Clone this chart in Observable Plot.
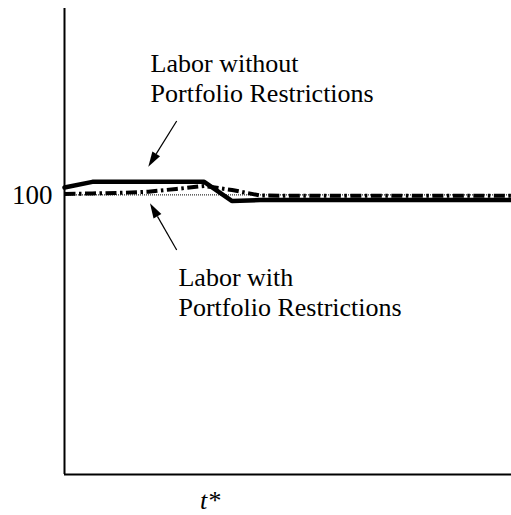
<!DOCTYPE html>
<html>
<head>
<meta charset="utf-8">
<script src="https://cdn.jsdelivr.net/npm/d3@7"></script>
<script src="https://cdn.jsdelivr.net/npm/@observablehq/plot@0.6"></script>
<style>
  html, body { margin: 0; padding: 0; background: #fff; }
  #chart svg { display: block; }
  #chart svg text { font-family: "Liberation Serif", "DejaVu Serif", serif !important; }
</style>
</head>
<body>
<div id="chart"></div>
<script>
// periods
const periods = d3.range(0, 17);
// Labor without portfolio restrictions (index, steady state = 100)
const laborWithout = [100.40, 100.70, 100.70, 100.70, 100.70, 100.70, 99.67, 99.72, 99.72, 99.72, 99.72, 99.72, 99.72, 99.72, 99.72, 99.72, 99.72];
// Labor with portfolio restrictions
const laborWith = [100.05, 100.08, 100.11, 100.17, 100.32, 100.48, 100.26, 99.97, 99.95, 99.95, 99.95, 99.95, 99.95, 99.95, 99.95, 99.95, 99.95];
const steadyState = 100;
const tStar = 5;
const yTicks = [100];

const dataWithout = periods.map((t, i) => ({t, v: laborWithout[i]}));
const dataWith = periods.map((t, i) => ({t, v: laborWith[i]}));

const FONT = "Liberation Serif";

// filled arrow mark drawn through the plot's scales
function filledArrow(x1, y1, x2, y2) {
  return (index, scales) => {
    const X1 = scales.x(x1), Y1 = scales.y(y1), X2 = scales.x(x2), Y2 = scales.y(y2);
    const ang = Math.atan2(Y2 - Y1, X2 - X1);
    const L = 15, W = 4.5;
    const bx = X2 - L * Math.cos(ang), by = Y2 - L * Math.sin(ang);
    const px = -Math.sin(ang) * W, py = Math.cos(ang) * W;
    const g = d3.create("svg:g");
    g.append("line").attr("x1", X1).attr("y1", Y1).attr("x2", bx).attr("y2", by)
      .attr("stroke", "black").attr("stroke-width", 1.2);
    g.append("path").attr("d", `M${X2},${Y2}L${bx + px},${by + py}L${bx - px},${by - py}Z`)
      .attr("fill", "black");
    return g.node();
  };
}

const chart = Plot.plot({
  width: 511,
  height: 515,
  marginLeft: 64,
  marginRight: 0,
  marginTop: 8,
  marginBottom: 41,
  style: {background: "#fff", color: "black"},
  x: {domain: [0, 16]},
  y: {domain: [85, 110]},
  marks: [
    Plot.ruleY([steadyState], {stroke: "black", strokeWidth: 1, strokeDasharray: "1,1"}),
    Plot.line(dataWithout, {x: "t", y: "v", stroke: "black", strokeWidth: 4.5, strokeLinejoin: "miter"}),
    Plot.line(dataWith, {x: "t", y: "v", stroke: "black", strokeWidth: 4, strokeDasharray: "11,3.5,2.5,3.5", strokeLinecap: "butt"}),
    Plot.ruleX([0], {stroke: "black", strokeWidth: 2}),
    Plot.ruleY([85], {stroke: "black", strokeWidth: 2}),
    Plot.axisY({ticks: yTicks, tickSize: 0, tickPadding: 12, fontSize: 27, fontFamily: FONT, tickFormat: d => String(d), label: null}),
    Plot.axisX({ticks: [tStar], tickSize: 0, tickPadding: 16, fontSize: 26, fontFamily: FONT, fontStyle: "italic", dx: 6, tickFormat: () => "t*", label: null}),
    Plot.text(["Labor without\nPortfolio Restrictions"], {x: 3.08, y: 104.96, text: d => d, textAnchor: "start", lineAnchor: "bottom", lineHeight: 1.17, fontSize: 26, fontFamily: FONT, fill: "black"}),
    Plot.text(["Labor with\nPortfolio Restrictions"], {x: 4.08, y: 93.48, text: d => d, textAnchor: "start", lineAnchor: "bottom", lineHeight: 1.17, fontSize: 26, fontFamily: FONT, fill: "black"}),
    filledArrow(4.034, 103.94, 3.017, 101.49),
    filledArrow(4.034, 97.02, 3.078, 99.52)
  ]
});
document.getElementById("chart").appendChild(chart);
</script>
</body>
</html>
